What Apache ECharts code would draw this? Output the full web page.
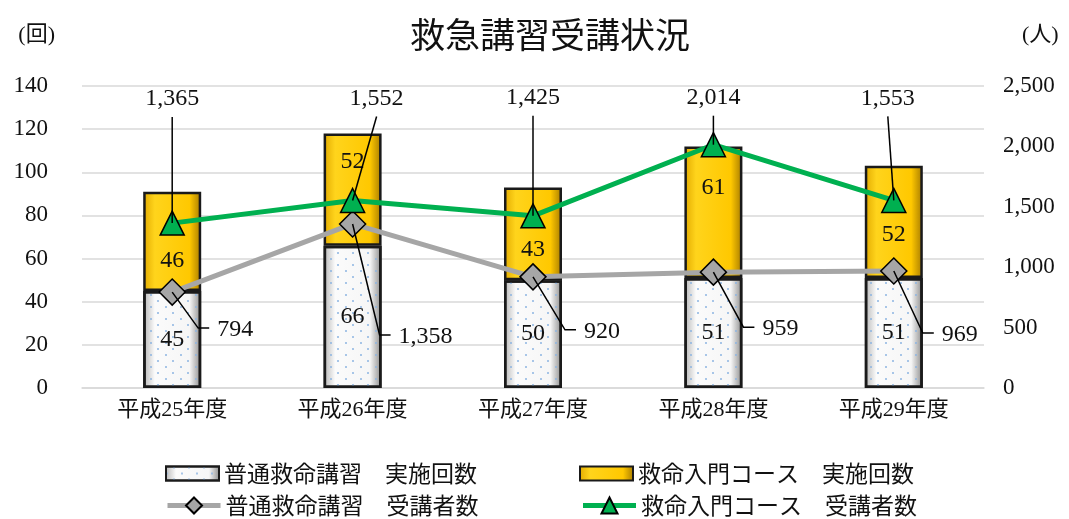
<!DOCTYPE html>
<html><head><meta charset="utf-8">
<script src="https://cdn.jsdelivr.net/npm/echarts@6/dist/echarts.min.js"></script>
<style>html,body{margin:0;padding:0;background:#fff}#main{width:1069px;height:519px}</style>
</head><body><div id="main"></div>
<script>
// ---- data ----
const categories = ['平成25年度', '平成26年度', '平成27年度', '平成28年度', '平成29年度'];
const basicCount = [45, 66, 50, 51, 51];        // 普通救命講習 実施回数
const introCount = [46, 52, 43, 61, 52];        // 救命入門コース 実施回数
const basicPeople = [794, 1358, 920, 959, 969]; // 普通救命講習 受講者数
const introPeople = [1365, 1552, 1425, 2014, 1553]; // 救命入門コース 受講者数
const leftAxisMax = 140, leftAxisStep = 20;
const rightAxisMax = 2500, rightAxisStep = 500;
const seriesNames = ['普通救命講習　実施回数', '救命入門コース　実施回数', '普通救命講習　受講者数', '救命入門コース　受講者数'];

// ---- label layout (pixel offsets, kept apart from data) ----
const introCountLabelShift = [19, -28, 16, -24, 13];
const introPeopleLabelOffset = [[0, -124], [24, -102], [0, -118], [0, -47], [-6, -102]];
const basicPeopleElbowOffset = [[26, 36], [27, 111], [32, 53], [30, 55], [29, 62]];

const NUM_FONT = "'Liberation Serif','Noto Sans CJK JP'";
const CJK_FONT = "'Noto Sans CJK JP'";
const fmt = v => Number(v).toLocaleString('en-US');

const lowerFill = {type: 'linear', x: 0, y: 0, x2: 1, y2: 0, colorStops: [
  {offset: 0, color: '#b5b5b5'}, {offset: 0.2, color: '#fbfbfb'},
  {offset: 0.8, color: '#f6f6f6'}, {offset: 1, color: '#8a8a8a'}]};
const upperFill = {type: 'linear', x: 0, y: 0, x2: 1, y2: 0, colorStops: [
  {offset: 0, color: '#E2AA00'}, {offset: 0.2, color: '#FFD41C'},
  {offset: 0.8, color: '#FFC800'}, {offset: 1, color: '#A67A00'}]};

function greenLabels(params, api) {
  const p = api.coord([api.value(0), api.value(1)]);
  const o = introPeopleLabelOffset[params.dataIndex];
  const lx = p[0] + o[0], ly = p[1] + o[1];
  return {type: 'group', children: [
    {type: 'line', shape: {x1: p[0], y1: p[1], x2: lx, y2: ly + 18},
     style: {stroke: '#000', lineWidth: 1.5}},
    {type: 'text', style: {x: lx, y: ly, text: fmt(api.value(1)), fontSize: 24,
      fontFamily: NUM_FONT, fill: '#111', align: 'center', verticalAlign: 'middle'}}
  ]};
}
function grayLabels(params, api) {
  const p = api.coord([api.value(0), api.value(1)]);
  const o = basicPeopleElbowOffset[params.dataIndex];
  const ex = p[0] + o[0], ey = p[1] + o[1];
  return {type: 'group', children: [
    {type: 'polyline', shape: {points: [[p[0], p[1]], [ex, ey], [ex + 11, ey]]},
     style: {stroke: '#000', lineWidth: 1.5, fill: null}},
    {type: 'text', style: {x: ex + 19, y: ey + 2, text: fmt(api.value(1)), fontSize: 24,
      fontFamily: NUM_FONT, fill: '#111', align: 'left', verticalAlign: 'middle'}}
  ]};
}

const chart = echarts.init(document.getElementById('main'));
chart.setOption({
  backgroundColor: '#fff',
  animation: false,
  title: {text: '救急講習受講状況', left: 405, top: 12,
    textStyle: {fontFamily: CJK_FONT, fontSize: 35, fontWeight: 'normal', color: '#111'}},
  grid: {left: 82, right: 85, top: 86, bottom: 131},
  legend: [
    {data: [seriesNames[0], seriesNames[1]], left: 160, top: 457, itemWidth: 53, itemHeight: 14,
     itemGap: 102, icon: 'rect', textStyle: {fontFamily: CJK_FONT, fontSize: 23, color: '#111'}},
    {data: [seriesNames[2], seriesNames[3]], left: 160, top: 489, itemWidth: 53, itemHeight: 20,
     itemGap: 102, lineStyle: {width: 5},
     textStyle: {fontFamily: CJK_FONT, fontSize: 23, color: '#111'}}
  ],
  xAxis: {type: 'category', data: categories,
    axisLine: {lineStyle: {color: '#d9d9d9', width: 1.5}}, axisTick: {show: false},
    axisLabel: {margin: 11, fontSize: 22, fontFamily: NUM_FONT, color: '#111'}},
  yAxis: [
    {type: 'value', min: 0, max: leftAxisMax, interval: leftAxisStep,
     name: '(回)', nameLocation: 'end', nameGap: 40,
     nameTextStyle: {align: 'right', padding: [0, 27, 0, 0], fontSize: 22, fontFamily: NUM_FONT, color: '#111'},
     axisLine: {show: false}, axisTick: {show: false},
     axisLabel: {margin: 34, fontSize: 23, fontFamily: NUM_FONT, color: '#111'},
     splitLine: {lineStyle: {color: '#d9d9d9', width: 1.5}}},
    {type: 'value', min: 0, max: rightAxisMax, interval: rightAxisStep,
     name: '(人)', nameLocation: 'end', nameGap: 40,
     nameTextStyle: {align: 'left', padding: [0, 0, 0, 38], fontSize: 22, fontFamily: NUM_FONT, color: '#111'},
     axisLine: {show: false}, axisTick: {show: false},
     axisLabel: {margin: 19, fontSize: 23, fontFamily: NUM_FONT, color: '#111', formatter: v => fmt(v)},
     splitLine: {show: false}}
  ],
  series: [
    {name: seriesNames[0], type: 'bar', stack: 'count', barWidth: 58, data: basicCount,
     itemStyle: {color: lowerFill, borderColor: '#1a1a1a', borderWidth: 2.5,
       decal: {symbol: 'circle', symbolSize: 1, color: '#8DB4E2',
         dashArrayX: [[2, 13], [0, 7, 2, 6]], dashArrayY: [2, 4]}},
     label: {show: true, position: 'inside', fontSize: 24, fontFamily: NUM_FONT, color: '#111'}},
    {name: seriesNames[1], type: 'bar', stack: 'count', barWidth: 58,
     data: introCount.map((v, i) => ({value: v, label: {offset: [0, introCountLabelShift[i]]}})),
     itemStyle: {color: upperFill, borderColor: '#1a1a1a', borderWidth: 2.5},
     label: {show: true, position: 'inside', fontSize: 24, fontFamily: NUM_FONT, color: '#111'}},
    {name: seriesNames[2], type: 'line', yAxisIndex: 1, data: basicPeople, z: 3,
     symbol: 'diamond', symbolSize: 26,
     lineStyle: {color: '#A6A6A6', width: 5},
     itemStyle: {color: '#A6A6A6', borderColor: '#000', borderWidth: 1.5}},
    {name: seriesNames[3], type: 'line', yAxisIndex: 1, data: introPeople, z: 4,
     symbol: 'triangle', symbolSize: 24,
     lineStyle: {color: '#00B050', width: 5},
     itemStyle: {color: '#00B050', borderColor: '#000', borderWidth: 1.5}},
    {name: 'basicPeopleLabels', type: 'custom', yAxisIndex: 1, z: 6, clip: false,
     data: basicPeople.map((v, i) => [i, v]), renderItem: grayLabels},
    {name: 'introPeopleLabels', type: 'custom', yAxisIndex: 1, z: 6, clip: false,
     data: introPeople.map((v, i) => [i, v]), renderItem: greenLabels}
  ]
});
</script></body></html>
